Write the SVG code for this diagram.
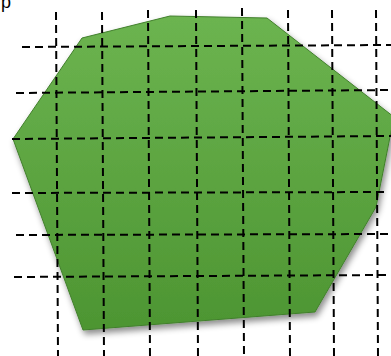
<svg xmlns="http://www.w3.org/2000/svg" width="391" height="356" viewBox="0 0 391 356">
  <defs>
    <linearGradient id="g" x1="0" y1="0" x2="0" y2="1">
      <stop offset="0" stop-color="#6cb450"/>
      <stop offset="1" stop-color="#4d9532"/>
    </linearGradient>
    <filter id="sh" x="-10%" y="-10%" width="130%" height="130%">
      <feDropShadow dx="2" dy="4" stdDeviation="3" flood-color="#000" flood-opacity="0.45"/>
    </filter>
    <style>
      .grid line { stroke: #000; stroke-width: 2; stroke-dasharray: 8 5; fill: none; }
      .lbl { font-family: "Liberation Sans", Arial, sans-serif; font-size: 18px; fill: #000; }
    </style>
  </defs>
  <rect width="391" height="356" fill="#fff"/>
  <text class="lbl" x="1" y="8">p</text>
  <g id="shape">
    <polygon points="13,139 82,38 170,16 267,18 394,117 376,207 315,312 83,330" fill="url(#g)" stroke="#417f2c" stroke-width="1" filter="url(#sh)"/>
  </g>
  <g id="grid" class="grid">
    <line x1="56" y1="12" x2="58" y2="356"/>
    <line x1="102" y1="12" x2="104" y2="356"/>
    <line x1="148" y1="10" x2="150" y2="356"/>
    <line x1="196" y1="10" x2="198" y2="356"/>
    <line x1="242" y1="8" x2="244" y2="356"/>
    <line x1="288" y1="10" x2="290" y2="356"/>
    <line x1="332" y1="10" x2="334" y2="356"/>
    <line x1="376" y1="10" x2="378" y2="356"/>
    <line x1="22" y1="47" x2="391" y2="45"/>
    <line x1="16" y1="93" x2="391" y2="90"/>
    <line x1="12" y1="139" x2="391" y2="136"/>
    <line x1="12" y1="193" x2="384" y2="192"/>
    <line x1="16" y1="235" x2="388" y2="234"/>
    <line x1="14" y1="277" x2="386" y2="275"/>
  </g>
</svg>
